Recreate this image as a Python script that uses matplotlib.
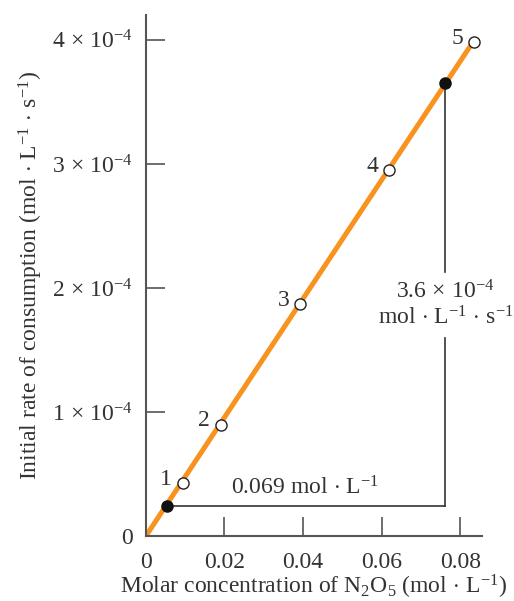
import matplotlib
matplotlib.use("Agg")
import matplotlib.pyplot as plt

# ---- data ----
conc = [0.0094, 0.0191, 0.0393, 0.0619, 0.0834]          # mol/L
rate = [0.43e-4, 0.90e-4, 1.87e-4, 2.95e-4, 3.98e-4]      # mol/(L s)
point_labels = ["1", "2", "3", "4", "5"]

fit_x = [0.0, 0.0836]
fit_y = [0.0, 4.0e-4]

tri_x = [0.0053, 0.0760]        # filled points of the slope triangle
tri_y = [0.24e-4, 3.65e-4]
gap_y = [1.60e-4, 2.13e-4]      # break in the vertical leg for its label

x_ticks = [0, 0.02, 0.04, 0.06, 0.08]
x_tick_labels = ["0", "0.02", "0.04", "0.06", "0.08"]
y_ticks = [0, 1e-4, 2e-4, 3e-4, 4e-4]
y_tick_labels = ["0", r"1$\,\times\,$10$^{-4}$", r"2$\,\times\,$10$^{-4}$",
                 r"3$\,\times\,$10$^{-4}$", r"4$\,\times\,$10$^{-4}$"]

plt.rcParams["font.family"] = ["Liberation Serif", "DejaVu Serif"]
plt.rcParams["mathtext.fontset"] = "custom"
plt.rcParams["mathtext.rm"] = "Liberation Serif"
plt.rcParams["mathtext.it"] = "Liberation Serif:italic"
plt.rcParams["mathtext.default"] = "rm"

ORANGE = "#F7931E"
INK = "#333333"
FS = 17

fig = plt.figure(figsize=(5.14, 6.01), dpi=100)
ax = fig.add_axes([0.2835, 0.1077, 0.654, 0.8673])

ax.plot(fit_x, fit_y, color=ORANGE, lw=3.6, solid_capstyle="butt", zorder=2)

# slope triangle
ax.plot([tri_x[0], tri_x[1]], [tri_y[0], tri_y[0]], color=INK, lw=1.2, zorder=1)
ax.plot([tri_x[1], tri_x[1]], [tri_y[1], gap_y[1]], color=INK, lw=1.2, zorder=1)
ax.plot([tri_x[1], tri_x[1]], [gap_y[0], tri_y[0]], color=INK, lw=1.2, zorder=1)
ax.plot(tri_x, tri_y, "o", color="#111111", ms=8, zorder=4)

ax.plot(conc, rate, "o", mfc="white", mec="#222222", mew=1.0, ms=8, zorder=3)
for xv, yv, lab in zip(conc, rate, point_labels):
    ax.text(xv - 0.0027, yv + 0.03e-4, lab, ha="right", va="center",
            fontsize=FS, color=INK)

ax.text(0.0405, 0.30e-4, r"0.069 mol$\,\cdot\,$L$^{-1}$", ha="center",
        va="bottom", fontsize=FS, color=INK)
ax.text(tri_x[1] + 0.0002, sum(gap_y) / 2,
        "3.6$\\,\\times\\,$10$^{-4}$\nmol$\\,\\cdot\\,$L$^{-1}$$\\,\\cdot\\,$s$^{-1}$",
        ha="center", va="center", fontsize=FS, color=INK, linespacing=1.15)

ax.set_xlim(0, 0.0855)
ax.set_ylim(0, 4.2e-4)
ax.set_xticks(x_ticks)
ax.set_xticklabels(x_tick_labels)
ax.set_yticks(y_ticks)
ax.set_yticklabels(y_tick_labels)
ax.tick_params(direction="in", length=14, width=1.2, color="#555555",
               labelsize=FS, labelcolor=INK)
ax.tick_params(axis="x", pad=11)
ax.tick_params(axis="y", pad=9)

for side in ["top", "right"]:
    ax.spines[side].set_visible(False)
for side in ["left", "bottom"]:
    ax.spines[side].set_color("#555555")
    ax.spines[side].set_linewidth(1.5)

ax.set_xlabel(r"Molar concentration of N$_2$O$_5$ (mol$\,\cdot\,$L$^{-1}$)",
              fontsize=FS, color=INK, labelpad=0)
ax.set_ylabel(r"Initial rate of consumption (mol$\,\cdot\,$L$^{-1}$$\,\cdot\,$s$^{-1}$)",
              fontsize=FS, color=INK, labelpad=5)

fig.savefig("out.png", dpi=100)
